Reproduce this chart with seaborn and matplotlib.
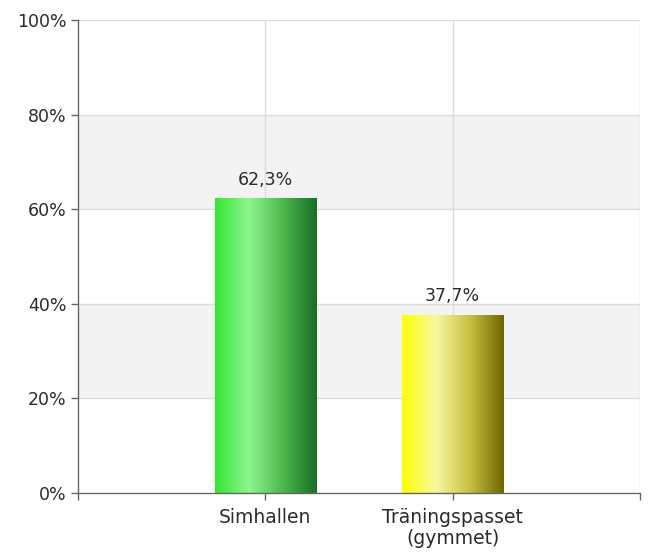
import numpy as np
import pandas as pd
import matplotlib
matplotlib.use("Agg")
import matplotlib.pyplot as plt
import seaborn as sns
from matplotlib.colors import LinearSegmentedColormap

categories = ["Simhallen", "Träningspasset\n(gymmet)"]
values = [62.3, 37.7]
value_labels = ["62,3%", "37,7%"]
ytick_vals = [0, 20, 40, 60, 80, 100]
ytick_labels = ["0%", "20%", "40%", "60%", "80%", "100%"]

sns.set_theme(style="white")
plt.rcParams['font.family'] = ['DejaVu Sans']

fig = plt.figure(figsize=(6.49, 5.55), dpi=100)
ax = fig.add_axes([0.120, 0.112, 0.866, 0.852])

df = pd.DataFrame({"cat": categories, "val": values})
sns.barplot(data=df, x="cat", y="val", ax=ax, width=0.54, color="#3c3", saturation=1)

ax.set_xlim(-1, 2)
ax.set_ylim(0, 100)

# alternating bands
for lo in (20, 60):
    ax.axhspan(lo, lo + 20, color="#f3f3f3", zorder=0, lw=0)
for y in ytick_vals[1:]:
    ax.axhline(y, color="#dcdcdc", lw=1, zorder=0.5)
for x in (0, 1, 2):
    ax.axvline(x, color="#dcdcdc", lw=1, zorder=0.5)

cmaps = [
    LinearSegmentedColormap.from_list("g", ["#33e633", "#8ef58e", "#4cb84c", "#1a6e26"]),
    LinearSegmentedColormap.from_list("y", ["#ffff00", "#f8f8a0", "#c8c040", "#6e6600"]),
]
grad = np.linspace(0, 1, 256).reshape(1, -1)
for bar, cm in zip(ax.patches, cmaps):
    x0, w, h = bar.get_x(), bar.get_width(), bar.get_height()
    bar.set_facecolor("none")
    bar.set_edgecolor("none")
    im = ax.imshow(grad, cmap=cm, extent=[x0, x0 + w, 0, h], aspect="auto", zorder=2,
                   interpolation="bilinear")
    im.set_clip_path(bar)

ax.set_xlim(-1, 2)
ax.set_ylim(0, 100)

for i, (v, lab) in enumerate(zip(values, value_labels)):
    ax.text(i, v + 2.0, lab, ha="center", va="bottom", fontsize=12.5, color="#2b2b2b")

ax.set_yticks(ytick_vals)
ax.set_yticklabels(ytick_labels, fontsize=12.5, color="#2b2b2b")
ax.set_xticks([0, 1])
ax.set_xticklabels(categories, fontsize=13.5, color="#2b2b2b", linespacing=1.1)
ax.set_xticks([-1, 2], minor=True)
ax.set_xlabel("")
ax.set_ylabel("")
ax.tick_params(axis="y", length=5, width=1, color="#666666", left=True, pad=3)
ax.tick_params(axis="x", which="both", length=5, width=1, color="#666666", bottom=True, pad=6)

for s in ("top", "right"):
    ax.spines[s].set_visible(False)
for s in ("left", "bottom"):
    ax.spines[s].set_color("#666666")
    ax.spines[s].set_linewidth(1)

fig.savefig("out.png", dpi=100, facecolor="white")
